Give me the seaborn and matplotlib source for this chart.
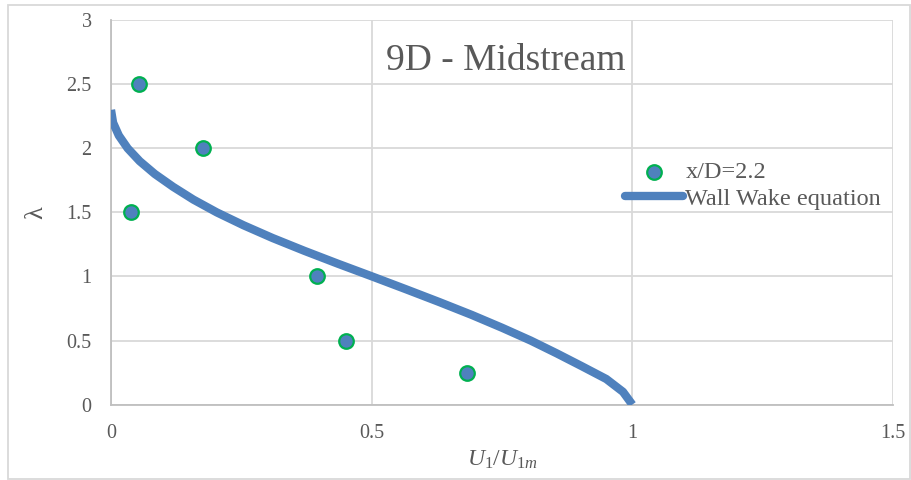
import matplotlib
matplotlib.use("Agg")
import matplotlib.pyplot as plt
from matplotlib.patches import Rectangle
import seaborn as sns
import pandas as pd

# Measured profile at x/D = 2.2
meas_u = [0.053, 0.176, 0.039, 0.395, 0.450, 0.682]
meas_lam = [2.5, 2.0, 1.5, 1.0, 0.5, 0.25]

# Wall wake equation curve
curve_lam = [0.0, 0.1, 0.2, 0.3, 0.4, 0.5, 0.6, 0.7, 0.8, 0.9, 1.0, 1.1,
             1.2, 1.3, 1.4, 1.5, 1.6, 1.7, 1.8, 1.9, 2.0, 2.1, 2.2, 2.3]
curve_u = [1.0, 0.982, 0.950, 0.903, 0.855, 0.805, 0.750, 0.692, 0.630,
           0.566, 0.501, 0.435, 0.371, 0.310, 0.254, 0.203, 0.158, 0.119,
           0.084, 0.055, 0.032, 0.015, 0.004, 0.0]

x_ticks = [0, 0.5, 1, 1.5]
x_tick_labels = ["0", "0.5", "1", "1.5"]
y_ticks = [0, 0.5, 1, 1.5, 2, 2.5, 3]
y_tick_labels = ["0", "0.5", "1", "1.5", "2", "2.5", "3"]

title_text = "9D - Midstream"
meas_label = "x/D=2.2"
curve_label = "Wall Wake equation"

sns.set_theme(style="white")
serif = ["Liberation Serif", "DejaVu Serif"]
plt.rcParams["font.family"] = serif
plt.rcParams["mathtext.fontset"] = "custom"
plt.rcParams["mathtext.rm"] = "Liberation Serif"
plt.rcParams["mathtext.it"] = "Liberation Serif:italic"

text_color = "#595959"
grid_color = "#d9d9d9"
axis_color = "#bfbfbf"
blue = "#4f81bd"
green = "#00b050"

fig = plt.figure(figsize=(9.12, 4.8), dpi=100)
ax = fig.add_axes([0.1217, 0.157, 0.8575, 0.801])

df_curve = pd.DataFrame({"u": curve_u, "lam": curve_lam})
df_meas = pd.DataFrame({"u": meas_u, "lam": meas_lam})

sns.lineplot(data=df_curve, x="u", y="lam", ax=ax, color=blue, linewidth=6.0,
             sort=False, estimator=None, label=curve_label, zorder=3,
             solid_capstyle="butt", solid_joinstyle="round")
sns.scatterplot(data=df_meas, x="u", y="lam", ax=ax, color=blue, s=110,
                edgecolor=green, linewidth=1.6, label=meas_label, zorder=4)

ax.set_xlim(0, 1.5)
ax.set_ylim(0, 3)
ax.set_xticks(x_ticks)
ax.set_xticklabels(x_tick_labels)
ax.set_yticks(y_ticks)
ax.set_yticklabels(y_tick_labels)
ax.tick_params(axis="both", length=0, labelsize=14.5, colors=text_color)
ax.tick_params(axis="x", pad=14)
ax.tick_params(axis="y", pad=14)

ax.grid(True, color=grid_color, linewidth=1.3)
ax.set_axisbelow(True)
for side in ["top", "right"]:
    ax.spines[side].set_visible(False)
for side in ["left", "bottom"]:
    ax.spines[side].set_color(axis_color)
    ax.spines[side].set_linewidth(1.3)

ax.set_xlabel(r"$U_{1}/U_{1m}$", fontsize=17, color=text_color, labelpad=4)
ax.set_ylabel("λ", fontsize=19, color=text_color, labelpad=14)

ax.text(0.505, 0.895, title_text, transform=ax.transAxes, ha="center",
        va="center", fontsize=27, color=text_color)

handles, labels = ax.get_legend_handles_labels()
order = [labels.index(meas_label), labels.index(curve_label)]
leg = ax.legend([handles[i] for i in order], [labels[i] for i in order],
                loc="center left", bbox_to_anchor=(0.685, 0.6135),
                bbox_transform=fig.transFigure, frameon=False,
                borderaxespad=0, borderpad=0,
                fontsize=17.5, handlelength=2.4, handletextpad=0.1,
                labelspacing=0.2)
for t in leg.get_texts():
    t.set_color(text_color)
for h in leg.legend_handles:
    if hasattr(h, "set_solid_capstyle"):
        h.set_solid_capstyle("round")

fig.patches.append(Rectangle((0.009, 0.003), 0.989, 0.986,
                             transform=fig.transFigure, fill=False,
                             edgecolor=grid_color, linewidth=1.3))

fig.savefig("out.png", dpi=100, facecolor="white")
